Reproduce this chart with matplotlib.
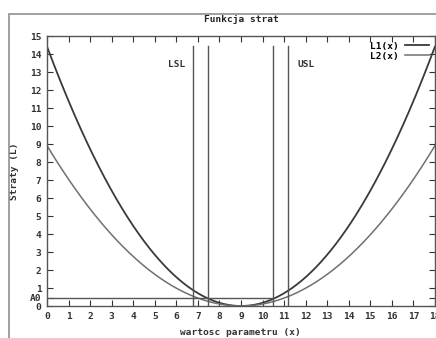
import numpy as np
import matplotlib
matplotlib.use("Agg")
import matplotlib.pyplot as plt
from matplotlib.patches import Rectangle

# loss function parameters
x_min, x_max = 0, 18
target = 9.0
k1 = 0.178   # L1(x) = k1 * (x - target)^2
k2 = 0.110   # L2(x) = k2 * (x - target)^2
A0 = 0.45
spec_lines = [6.75, 7.45, 10.48, 11.18]
spec_labels = ["LSL", "USL"]
spec_label_pos = [(5.6, 13.3), (11.6, 13.3)]
x_ticks = list(range(0, 19))
y_ticks = list(range(0, 16))

plt.rcParams['font.family'] = 'DejaVu Sans Mono'
plt.rcParams['font.weight'] = 'bold'
plt.rcParams['axes.titleweight'] = 'bold'
plt.rcParams['axes.labelweight'] = 'bold'

W, H = 436, 338
fig = plt.figure(figsize=(W / 100, H / 100), dpi=100)
fig.patch.set_facecolor('white')

# outer gnuplot window frame
fig.add_artist(Rectangle((9 / W, -0.1), 1.2, (H - 14) / H + 0.1,
                         transform=fig.transFigure, fill=False,
                         edgecolor='#909090', linewidth=1.2))

ax = fig.add_axes([47 / W, 32 / H, 388 / W, 270 / H])

x = np.linspace(x_min, x_max, 400)
ax.plot(x, k1 * (x - target) ** 2, color='#3a3a3a', lw=1.3, label='L1(x)')
ax.plot(x, k2 * (x - target) ** 2, color='#707070', lw=1.1, label='L2(x)')

for xv in spec_lines:
    ax.plot([xv, xv], [0, 14.45], color='#555555', lw=1.0)
ax.plot([0, spec_lines[2]], [A0, A0], color='#555555', lw=1.0)

for lab, (tx, ty) in zip(spec_labels, spec_label_pos):
    ax.text(tx, ty, lab, fontsize=6.8, color='#333333', fontweight='bold')

ax.set_xlim(x_min, x_max)
ax.set_ylim(0, 15)
ax.set_xticks(x_ticks)
ax.set_yticks(y_ticks + [A0])
ax.set_yticklabels([str(v) for v in y_ticks] + ['A0'])
ax.tick_params(direction='in', top=True, right=True, length=4,
               labelsize=6.8, colors='#333333', width=0.8, pad=4)
for lbl in ax.get_xticklabels() + ax.get_yticklabels():
    lbl.set_fontweight('bold')
for s in ax.spines.values():
    s.set_color('#555555')
    s.set_linewidth(1.0)

ax.set_title('Funkcja strat', fontsize=6.8, color='#222222', pad=10)
ax.set_ylabel('Straty (L)', fontsize=6.8, color='#333333', labelpad=8)
fig.text(240 / W, 1 / H, 'wartosc parametru (x)', fontsize=6.8,
         color='#333333', ha='center', va='bottom', fontweight='bold')

ax.legend(loc='upper right', frameon=False, fontsize=6.8, handlelength=2.6,
          markerfirst=False, borderaxespad=0.2, labelspacing=0.1,
          handletextpad=0.6)

fig.savefig('out.png', dpi=100)
